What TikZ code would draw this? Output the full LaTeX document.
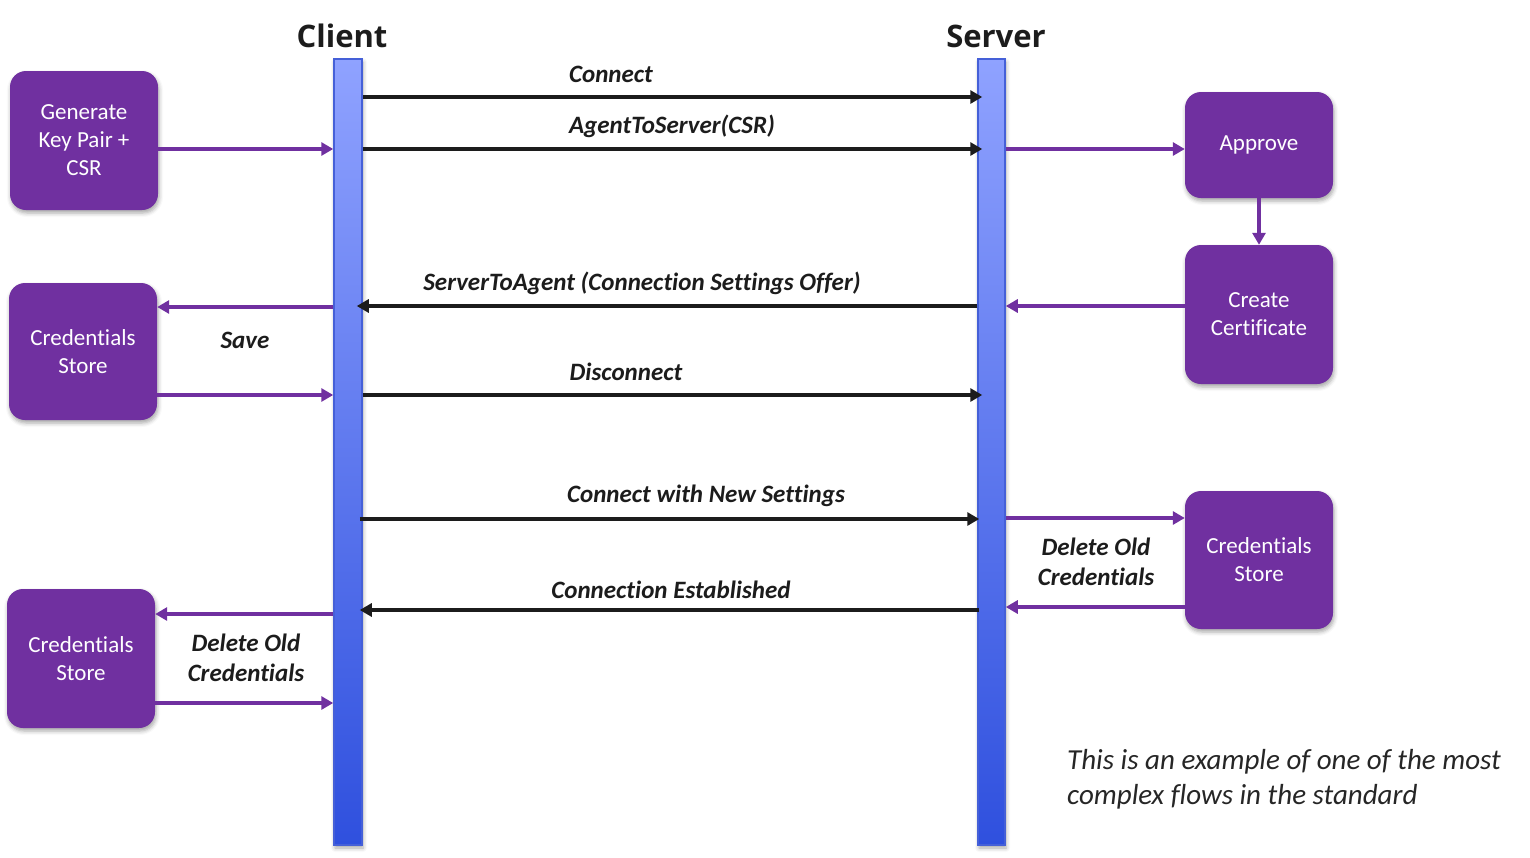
\documentclass[tikz,border=0pt]{standalone}
\usepackage{fontspec}
\setmainfont{Carlito}[Ligatures=NoCommon]
\newfontfamily\titlefont{Open Sans}
\usetikzlibrary{arrows.meta,shadows.blur}

\definecolor{boxpurple}{HTML}{7030A0}
\definecolor{barlight}{HTML}{8FA2FF}
\definecolor{bardark}{HTML}{2F50DE}
\definecolor{baredge}{HTML}{4560D8}
\definecolor{msgblack}{HTML}{1C1C1C}
\definecolor{notegray}{HTML}{262626}

\tikzset{
  softshadow/.style={blur shadow={shadow xshift=1pt, shadow yshift=-3pt,
      shadow blur radius=4pt, shadow opacity=35}},
  stepbox/.style={draw=none, fill=boxpurple, rounded corners=16pt, text=white,
      align=center, font=\fontsize{23}{28}\selectfont, minimum width=148pt,
      inner sep=0pt, softshadow},
  lifeline/.style={draw=baredge, line width=1.5pt, top color=barlight,
      bottom color=bardark, minimum width=28pt, minimum height=786pt,
      inner sep=0pt, softshadow},
  headtip/.style={-{Triangle[length=12pt,width=13pt]}},
  msg/.style={draw=msgblack, line width=3.6pt, headtip},
  flow/.style={draw=boxpurple, line width=3.6pt, headtip},
  lbl/.style={font=\fontsize{25}{30}\selectfont\bfseries\itshape,
      text=msgblack, align=center, inner sep=0pt},
  title/.style={font=\titlefont\bfseries\fontsize{31}{36}\selectfont,
      text=msgblack, inner sep=0pt}
}

\begin{document}
\begin{tikzpicture}[x=1pt, y=-1pt]
\useasboundingbox (0,0) rectangle (1530,857);

% lifelines and their headings
\node[lifeline] (client) at (348,452) {};
\node[lifeline, minimum width=27pt] (server) at (991.5,452) {};
\node[title] (clientT) at (342,36) {Client};
\node[title] (serverT) at (996,36) {Server};

% process boxes
\node[stepbox, minimum height=139pt] (gen) at (84,140.5) {Generate\\Key Pair +\\CSR};
\node[stepbox, minimum height=106pt] (approve) at (1259,145) {Approve};
\node[stepbox, minimum height=139pt] (cert) at (1259,314.5) {Create\\Certificate};
\node[stepbox, minimum height=137pt] (storeA) at (83,351.5) {Credentials\\Store};
\node[stepbox, minimum height=138pt] (storeB) at (1259,560) {Credentials\\Store};
\node[stepbox, minimum height=139pt] (storeC) at (81,658.5) {Credentials\\Store};

% messages between client and server
\draw[msg] (client.east |- 0,97) -- ([xshift=5pt]server.west |- 0,97);
\draw[msg] (client.east |- 0,149) -- ([xshift=5pt]server.west |- 0,149);
\draw[msg] (server.west |- 0,306) -- ([xshift=-6pt]client.east |- 0,306);
\draw[msg] (client.east |- 0,395) -- ([xshift=5pt]server.west |- 0,395);
\draw[msg] ([xshift=-3pt]client.east |- 0,519) -- ([xshift=2pt]server.west |- 0,519);
\draw[msg] ([xshift=2pt]server.west |- 0,610) -- ([xshift=-3pt]client.east |- 0,610);

% local steps on each side
\draw[flow] (gen.east |- 0,149) -- (client.west |- 0,149);
\draw[flow] (server.east |- 0,149) -- (approve.west |- 0,149);
\draw[flow] (approve.south) -- (cert.north);
\draw[flow] (cert.west |- 0,306) -- (server.east |- 0,306);
\draw[flow] (client.west |- 0,307) -- (storeA.east |- 0,307);
\draw[flow] (storeA.east |- 0,395) -- (client.west |- 0,395);
\draw[flow] (server.east |- 0,518) -- (storeB.west |- 0,518);
\draw[flow] (storeB.west |- 0,607) -- (server.east |- 0,607);
\draw[flow] (client.west |- 0,614) -- (storeC.east |- 0,614);
\draw[flow] (storeC.east |- 0,703) -- (client.west |- 0,703);

% message labels
\node[lbl] (l1) at (611,74) {Connect};
\node[lbl] (l2) at (672,126) {AgentToServer(CSR)};
\node[lbl] (l3) at (642,283) {ServerToAgent (Connection Settings Offer)};
\node[lbl] (l4) at (245,340) {Save};
\node[lbl] (l5) at (626,372) {Disconnect};
\node[lbl] (l6) at (706,496) {Connect with New Settings};
\node[lbl] (l7) at (1096,562) {Delete Old\\Credentials};
\node[lbl] (l8) at (671,590) {Connection Established};
\node[lbl] (l9) at (246,658) {Delete Old\\Credentials};

% note
\node[anchor=west, align=left, inner sep=0pt, text=notegray,
      font=\fontsize{29}{35}\selectfont\itshape] (note) at (1067,779)
  {This is an example of one of the most\\complex flows in the standard};
\end{tikzpicture}
\end{document}
